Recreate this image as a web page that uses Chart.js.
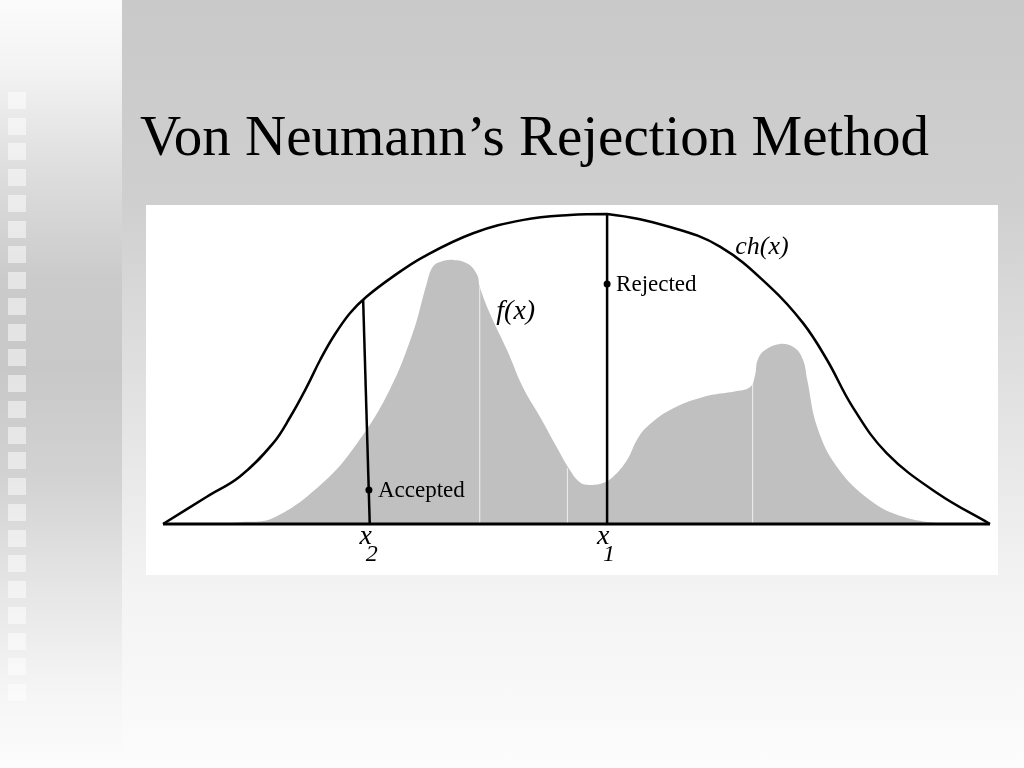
<!DOCTYPE html>
<html>
<head>
<meta charset="utf-8">
<script src="https://cdn.jsdelivr.net/npm/chart.js@4.4.1/dist/chart.umd.min.js"></script>
<style>
  body { margin: 0; }
  #page {
    position: relative; width: 1024px; height: 768px; overflow: hidden;
    background: linear-gradient(to bottom, #c9c9c9 0%, #cfcfcf 26%, #e4e4e4 55%, #f3f3f3 76%, #fcfcfc 100%);
  }
  #side {
    position: absolute; left: 0; top: 0; width: 122px; height: 768px;
    background: linear-gradient(to bottom, #fbfbfb 0%, #f3f3f3 9%, #dedede 22%, #cbcbcb 36%, #c8c8c8 48%, #d3d3d3 63%, #e5e5e5 76%, #f5f5f5 90%, #fcfcfc 100%);
  }
  #squares {
    position: absolute; left: 8px; top: 92px; width: 18px; height: 609px;
    background: repeating-linear-gradient(to bottom, rgba(255,255,255,0.5) 0px, rgba(255,255,255,0.5) 17px, rgba(255,255,255,0) 17px, rgba(255,255,255,0) 25.75px);
  }
  #title {
    position: absolute; left: 140px; top: 107px; white-space: nowrap;
    font-family: "Liberation Serif", "Times New Roman", serif; font-size: 57px; line-height: 57px; color: #000;
  }
  #box {
    position: absolute; left: 146px; top: 205px; width: 852px; height: 370px; background: #fff;
  }
</style>
</head>
<body>
<div id="page">
  <div id="side"></div>
  <div id="squares"></div>
  <div id="title">Von Neumann’s Rejection Method</div>
  <div id="box"><canvas id="myChart" width="852" height="370"></canvas></div>
</div>
<script>
// envelope curve c*h(x)
var chX = [0, 0.53, 0.93, 1.33, 1.54, 1.74, 1.90, 2.06, 2.26, 2.46, 2.78, 3.15, 3.75, 4.36, 4.92, 5.37, 6.13, 6.74, 7.34, 7.74, 8.03, 8.34, 8.75, 9.36, 10];
var chY = [0, 0.088, 0.153, 0.260, 0.346, 0.443, 0.529, 0.604, 0.680, 0.733, 0.798, 0.862, 0.938, 0.981, 0.997, 1.0, 0.958, 0.894, 0.765, 0.648, 0.529, 0.377, 0.229, 0.100, 0];

// target density f(x)
var fX = [0.53, 0.93, 1.33, 1.93, 2.35, 2.74, 3.02, 3.19, 3.26, 3.35, 3.51, 3.69, 3.80, 3.83, 3.95, 4.16, 4.35, 4.56, 4.76, 4.92, 5.04, 5.16, 5.32, 5.44, 5.61, 5.73, 5.85, 6.13, 6.53, 6.94, 7.10, 7.16, 7.19, 7.28, 7.46, 7.64, 7.74, 7.79, 7.91, 8.15, 8.55, 8.95, 9.36, 9.64];
var fY = [0, 0.006, 0.019, 0.132, 0.261, 0.432, 0.616, 0.777, 0.829, 0.845, 0.852, 0.839, 0.803, 0.765, 0.681, 0.561, 0.442, 0.345, 0.248, 0.174, 0.135, 0.126, 0.132, 0.152, 0.206, 0.271, 0.313, 0.368, 0.410, 0.429, 0.442, 0.481, 0.529, 0.561, 0.581, 0.568, 0.529, 0.465, 0.313, 0.184, 0.077, 0.023, 0.003, 0];

// sample lines x2 (accepted) and x1 (rejected)
var x2Line = {x: [2.42, 2.50], y: [0.724, 0]};
var x1Line = {x: [5.37, 5.37], y: [1.0, 0]};
var samplePoints = {x: [2.49, 5.37], y: [0.110, 0.774], label: ['Accepted', 'Rejected']};

// faint seams in the shaded area
var seamX = [3.83, 4.89, 7.13];
var seamTop = [0.765, 0.18, 0.46];

function toPoints(xs, ys) {
  return xs.map(function (v, i) { return {x: v, y: ys[i]}; });
}

var seamSets = seamX.map(function (v, i) {
  return {
    data: [{x: v, y: 0}, {x: v, y: seamTop[i]}],
    borderColor: 'rgba(255,255,255,0.75)', borderWidth: 1, pointRadius: 0, order: 8
  };
});

var labelPlugin = {
  id: 'labels',
  afterDatasetsDraw: function (chart) {
    var ctx = chart.ctx, xs = chart.scales.x, ys = chart.scales.y;
    ctx.save();
    ctx.fillStyle = '#000';
    ctx.textBaseline = 'alphabetic';
    ctx.textAlign = 'left';
    ctx.font = 'italic 28px "Liberation Serif"';
    ctx.fillText('f(x)', xs.getPixelForValue(4.03), ys.getPixelForValue(0.662));
    ctx.font = 'italic 26px "Liberation Serif"';
    ctx.fillText('ch(x)', xs.getPixelForValue(6.92), ys.getPixelForValue(0.871));

    ctx.font = '23px "Liberation Serif"';
    samplePoints.label.forEach(function (t, i) {
      ctx.fillText(t, xs.getPixelForValue(samplePoints.x[i]) + 9, ys.getPixelForValue(samplePoints.y[i]) + 7);
    });

    var base = ys.getPixelForValue(0);
    [[x2Line.x[1], '2'], [x1Line.x[1], '1']].forEach(function (s) {
      var px = xs.getPixelForValue(s[0]);
      ctx.textAlign = 'center';
      ctx.font = 'italic 28px "Liberation Serif"';
      ctx.fillText('x', px - 4, base + 20);
      ctx.font = 'italic 24px "Liberation Serif"';
      ctx.fillText(s[1], px + 2, base + 37);
    });
    ctx.restore();
  }
};

var chart = new Chart('myChart', {
  type: 'line',
  data: {
    datasets: [
      {
        data: toPoints(samplePoints.x, samplePoints.y),
        showLine: false, pointRadius: 3.5, pointBackgroundColor: '#000', pointBorderWidth: 0, order: 1
      },
      {
        data: toPoints(x1Line.x, x1Line.y),
        borderColor: '#000', borderWidth: 2.5, pointRadius: 0, order: 2
      },
      {
        data: toPoints(x2Line.x, x2Line.y),
        borderColor: '#000', borderWidth: 2.5, pointRadius: 0, order: 2
      },
      {
        data: [{x: 0, y: 0}, {x: 10, y: 0}],
        borderColor: '#000', borderWidth: 3, pointRadius: 0, order: 3
      },
      {
        data: toPoints(chX, chY),
        borderColor: '#000', borderWidth: 2.5, pointRadius: 0,
        tension: 0.4, order: 4
      }
    ].concat(seamSets).concat([
      {
        data: toPoints(fX, fY),
        borderWidth: 0, borderColor: 'rgba(0,0,0,0)', backgroundColor: '#c0c0c0',
        fill: 'origin', pointRadius: 0, tension: 0.4, order: 10
      }
    ])
  },
  options: {
    responsive: false,
    animation: false,
    clip: false,
    layout: { padding: { left: 17, right: 8, top: 9, bottom: 51 } },
    plugins: { legend: { display: false }, tooltip: { enabled: false } },
    scales: {
      x: { type: 'linear', min: 0, max: 10, display: false },
      y: { min: 0, max: 1, display: false }
    }
  },
  plugins: [labelPlugin]
});
</script>
</body>
</html>
